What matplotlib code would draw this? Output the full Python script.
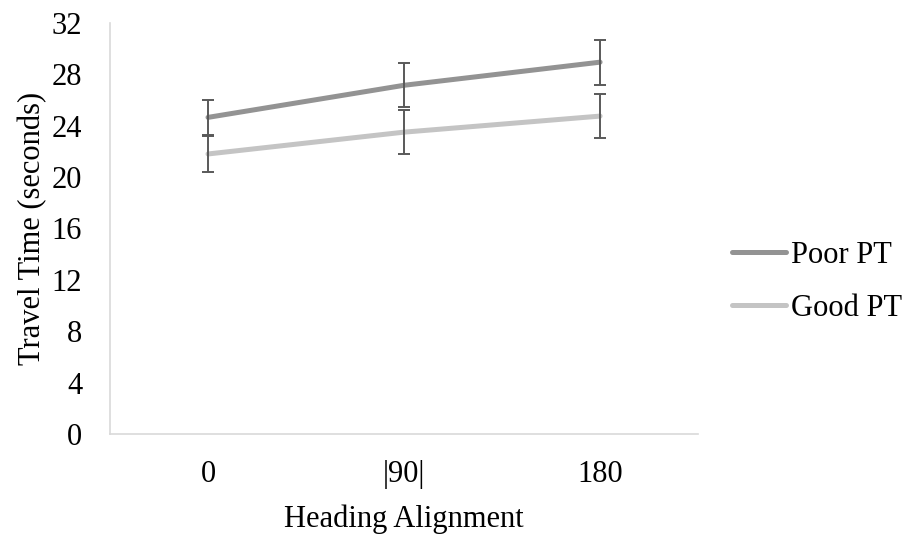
import matplotlib.pyplot as plt

plt.rcParams['font.family'] = ['Liberation Serif', 'DejaVu Serif']

alignments = ['0', '|90|', '180']
poor_pt = [24.65, 27.15, 28.95]
poor_pt_err = [1.35, 1.7, 1.75]
good_pt = [21.8, 23.5, 24.75]
good_pt_err = [1.4, 1.7, 1.74]
y_ticks = [0, 4, 8, 12, 16, 20, 24, 28, 32]


def main():
    fig = plt.figure(figsize=(9.09, 5.35), dpi=100)
    ax = fig.add_axes([0.121, 0.189, 0.647, 0.768])

    x = list(range(len(alignments)))

    ax.plot(x, poor_pt, color='#939393', linewidth=3.6, solid_capstyle='round',
            label='Poor PT', zorder=2)
    ax.plot(x, good_pt, color='#c4c4c4', linewidth=3.6, solid_capstyle='round',
            label='Good PT', zorder=2)

    # error bars drawn over the lines
    for vals, errs in ((poor_pt, poor_pt_err), (good_pt, good_pt_err)):
        ax.errorbar(x, vals, yerr=errs, fmt='none', ecolor='#595959',
                    elinewidth=1.4, capsize=4.5, capthick=1.4, zorder=3)

    ax.set_xlim(-0.5, 2.5)
    ax.set_ylim(0, 32)
    ax.set_xticks(x)
    ax.set_xticklabels(alignments)
    ax.set_yticks(y_ticks)

    for side in ('top', 'right'):
        ax.spines[side].set_visible(False)
    for side in ('left', 'bottom'):
        ax.spines[side].set_color('#d9d9d9')
        ax.spines[side].set_linewidth(1.2)

    ax.tick_params(axis='both', length=0, labelsize=22, colors='black')
    ax.tick_params(axis='y', pad=20)
    ax.tick_params(axis='x', pad=19)

    ax.set_xlabel('Heading Alignment', fontsize=22, labelpad=11)
    ax.set_ylabel('Travel Time (seconds)', fontsize=22, labelpad=3)

    fig.legend(loc='center left', bbox_to_anchor=(0.789, 0.473), frameon=False,
               fontsize=22, borderpad=0, handlelength=1.75, handletextpad=0.15,
               labelspacing=0.78)

    fig.savefig('out.png', dpi=100)


if __name__ == '__main__':
    main()
